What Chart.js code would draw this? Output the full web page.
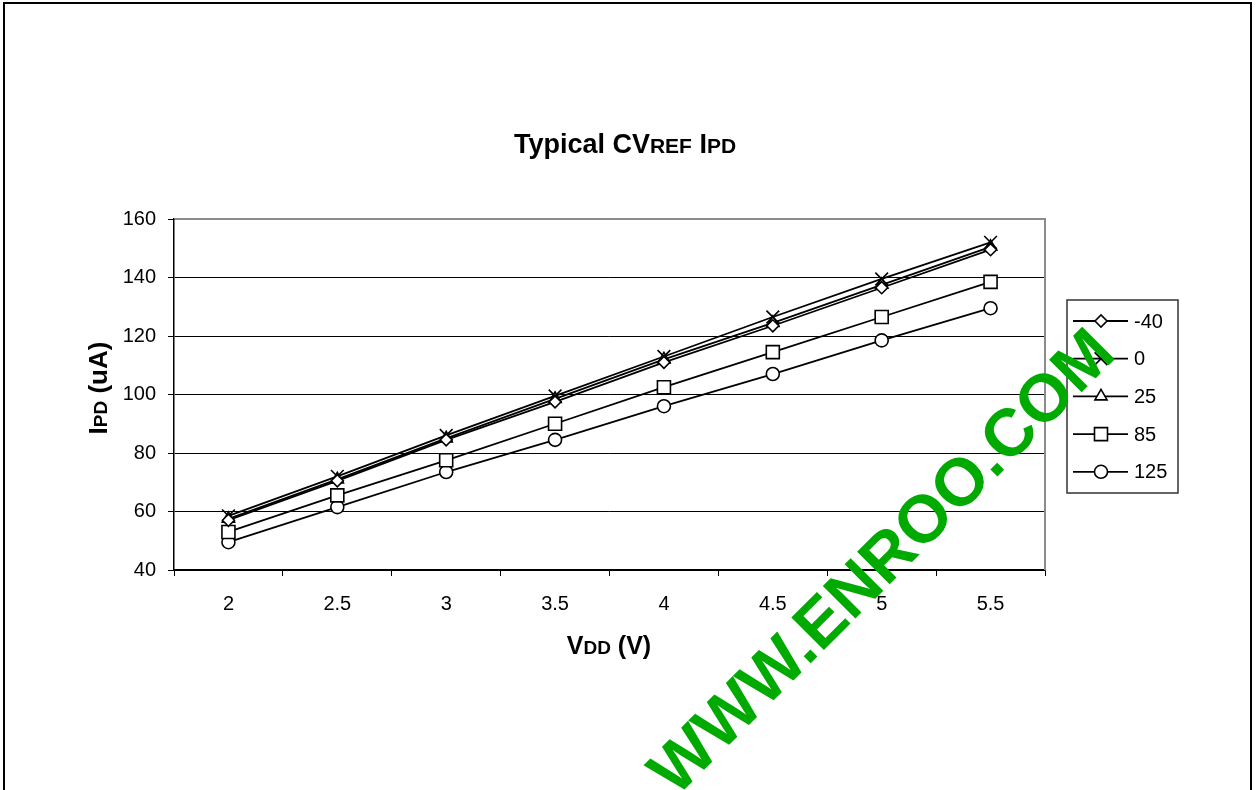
<!DOCTYPE html>
<html>
<head>
<meta charset="utf-8">
<title>Typical CVREF IPD</title>
<script src="https://cdn.jsdelivr.net/npm/chart.js@4/dist/chart.umd.min.js"></script>
<style>
  html, body { margin: 0; padding: 0; background: #fff; }
  #wrap { width: 1258px; height: 790px; }
</style>
</head>
<body>
<div id="wrap"><canvas id="chart" width="1258" height="790"></canvas></div>
<script>
// supply voltage (V)
const vdd = ["2", "2.5", "3", "3.5", "4", "4.5", "5", "5.5"];
// temperature series (degC) -> IPD in uA
const tempLabels = ["-40", "0", "25", "85", "125"];
const ipdM40 = [57, 70.5, 84.5, 97.5, 111, 123.5, 136.5, 149.5];
const ipd0   = [58.5, 72, 86, 99.5, 113, 126.5, 139.5, 152];
const ipd25  = [57.5, 71, 85, 98.5, 112, 124.5, 137.5, 150.5];
const ipd85  = [53, 65.5, 77.5, 90, 102.5, 114.5, 126.5, 138.5];
const ipd125 = [49.5, 61.5, 73.5, 84.5, 96, 107, 118.5, 129.5];
const yTicks = [40, 60, 80, 100, 120, 140, 160];

const FONT = "Arial, 'Liberation Sans', Helvetica, sans-serif";
const styles = [
  {pointStyle: "rectRot", radius: 6},
  {pointStyle: "crossRot", radius: 9},
  {pointStyle: "triangle", radius: 7},
  {pointStyle: "rect", radius: 9.2},
  {pointStyle: "circle", radius: 6.5}
];
const series = [ipdM40, ipd0, ipd25, ipd85, ipd125];

const datasets = series.map((vals, i) => ({
  label: tempLabels[i],
  data: vals,
  borderColor: "#000",
  borderWidth: 1.8,
  backgroundColor: "#fff",
  pointStyle: styles[i].pointStyle,
  pointRadius: styles[i].radius,
  pointBorderWidth: 1.6,
  pointBackgroundColor: "#fff",
  pointBorderColor: "#000",
  tension: 0,
  fill: false
}));

// draw a run of [text, size] pieces, bold, starting at x
function drawRuns(ctx, runs, x, y, align){
  let total = 0;
  runs.forEach(r => { ctx.font = "bold " + r[1] + "px " + FONT; total += ctx.measureText(r[0]).width; });
  let cx = align === "center" ? x - total / 2 : x;
  ctx.textAlign = "left";
  runs.forEach(r => {
    ctx.font = "bold " + r[1] + "px " + FONT;
    ctx.fillText(r[0], cx, y);
    cx += ctx.measureText(r[0]).width;
  });
}

const decor = {
  id: "decor",
  beforeDraw(chart){
    const ctx = chart.ctx;
    ctx.save();
    ctx.fillStyle = "#fff";
    ctx.fillRect(0, 0, chart.width, chart.height);
    ctx.strokeStyle = "#000";
    ctx.lineWidth = 2;
    ctx.strokeRect(4, 3, 1247, 820);
    ctx.restore();
  },
  afterDraw(chart){
    const ctx = chart.ctx;
    const a = chart.chartArea;
    ctx.save();
    // plot frame top / right in gray
    ctx.strokeStyle = "#8c8c8c";
    ctx.lineWidth = 2;
    ctx.beginPath();
    ctx.moveTo(a.left + 1, a.top);
    ctx.lineTo(a.right, a.top);
    ctx.lineTo(a.right, a.bottom);
    ctx.stroke();

    ctx.fillStyle = "#000";
    ctx.textBaseline = "alphabetic";
    // title
    drawRuns(ctx, [["Typical CV", 27], ["REF", 21], [" I", 27], ["PD", 21]], 625, 153, "center");
    // x title
    drawRuns(ctx, [["V", 25], ["DD", 19], [" (V)", 25]], 609, 654, "center");
    // y title
    ctx.save();
    ctx.translate(107, 388);
    ctx.rotate(-Math.PI / 2);
    drawRuns(ctx, [["I", 26], ["PD", 19], [" (uA)", 26]], 0, 0, "center");
    ctx.restore();

    // legend
    const lx = 1067, ly = 300, lw = 111, lh = 193;
    ctx.strokeStyle = "#333";
    ctx.lineWidth = 1.5;
    ctx.strokeRect(lx, ly, lw, lh);
    ctx.font = "20px " + FONT;
    ctx.textBaseline = "middle";
    ctx.textAlign = "left";
    chart.data.datasets.forEach((ds, i) => {
      const y = 321 + i * 37.7;
      ctx.strokeStyle = "#000";
      ctx.lineWidth = 1.8;
      ctx.beginPath();
      ctx.moveTo(1073, y);
      ctx.lineTo(1128, y);
      ctx.stroke();
      ctx.fillStyle = "#fff";
      ctx.lineWidth = 1.6;
      Chart.helpers.drawPoint(ctx, {pointStyle: ds.pointStyle, radius: ds.pointRadius, rotation: 0, borderWidth: 1.6}, 1101, y);
      ctx.fillStyle = "#000";
      ctx.fillText(ds.label, 1134, y + 1);
    });

    // site watermark
    ctx.translate(897, 577);
    ctx.rotate(-Math.PI / 4);
    ctx.fillStyle = "#00aa00";
    ctx.font = "bold 67px " + FONT;
    ctx.textAlign = "center";
    ctx.textBaseline = "alphabetic";
    ctx.fillText("WWW.ENROO.COM", 0, 0);
    ctx.restore();
  }
};

new Chart(document.getElementById("chart").getContext("2d"), {
  type: "line",
  data: { labels: vdd, datasets },
  plugins: [decor],
  options: {
    responsive: false,
    animation: false,
    devicePixelRatio: 1,
    layout: { padding: { left: 0, top: 219, right: 213, bottom: 0 } },
    plugins: {
      legend: { display: false },
      title: { display: false },
      tooltip: { enabled: false }
    },
    scales: {
      x: {
        type: "category",
        offset: true,
        afterFit(s){ s.height = 220; },
        grid: {
          offset: true,
          drawOnChartArea: false,
          drawTicks: true,
          tickLength: 6,
          color: "#000",
          lineWidth: 1
        },
        border: { display: true, color: "#000", width: 1.5 },
        ticks: { color: "#000", font: { family: FONT, size: 20 }, padding: 16, maxRotation: 0 }
      },
      y: {
        min: 40,
        max: 160,
        afterFit(s){ s.width = 174; },
        afterBuildTicks(s){ s.ticks = yTicks.map(v => ({value: v})); },
        grid: {
          drawOnChartArea: true,
          drawTicks: true,
          tickLength: 6,
          color: "#000",
          lineWidth: 1
        },
        border: { display: true, color: "#000", width: 1.5 },
        ticks: { color: "#000", font: { family: FONT, size: 20 }, padding: 12 }
      }
    }
  }
});
</script>
</body>
</html>
